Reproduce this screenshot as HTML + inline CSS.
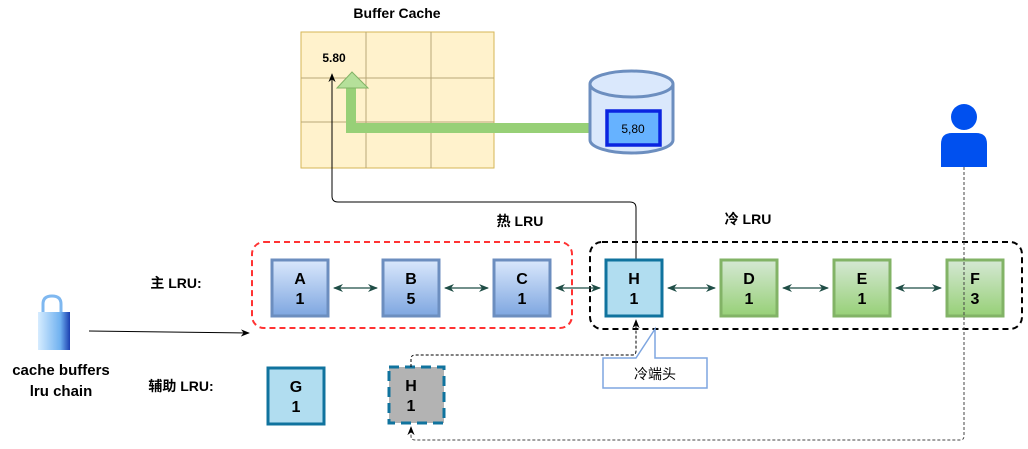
<!DOCTYPE html>
<html><head><meta charset="utf-8"><style>
html,body{margin:0;padding:0;background:#fff}
svg{display:block;font-family:"Liberation Sans","Noto Sans CJK SC",sans-serif}
.b{font-weight:bold}
</style></head><body>
<svg width="1028" height="449" viewBox="0 0 1028 449" xmlns="http://www.w3.org/2000/svg">
<defs>
<linearGradient id="gb" x1="0" y1="0" x2="0" y2="1"><stop offset="0" stop-color="#dae8fc"/><stop offset="1" stop-color="#7ea6e0"/></linearGradient>
<linearGradient id="gg" x1="0" y1="0" x2="0" y2="1"><stop offset="0" stop-color="#d5e8d4"/><stop offset="1" stop-color="#97d077"/></linearGradient>
<linearGradient id="lk" x1="0" y1="0" x2="1" y2="0"><stop offset="0" stop-color="#d6ecff"/><stop offset="0.7" stop-color="#6fb1f0"/><stop offset="1" stop-color="#1b3fb0"/></linearGradient>
<marker id="a" viewBox="0 0 10 10" refX="9" refY="5" markerWidth="9" markerHeight="9" markerUnits="userSpaceOnUse" orient="auto-start-reverse"><path d="M0,1 L10,5 L0,9 L3,5z" fill="#000"/></marker>
<marker id="ag" viewBox="0 0 10 10" refX="9" refY="5" markerWidth="10" markerHeight="10" markerUnits="userSpaceOnUse" orient="auto-start-reverse"><path d="M0,1 L10,5 L0,9 L3,5z" fill="#1f4d46"/></marker>
</defs>

<text x="397" y="18" font-size="14" class="b" text-anchor="middle">Buffer Cache</text>
<rect x="301" y="32" width="193" height="136" fill="#fff2cc" stroke="#d6b656"/>
<path d="M366,32V168M431,32V168M301,78H494M301,122H494" stroke="#b8a878" stroke-width="1"/>
<text x="334" y="62" font-size="12" class="b" text-anchor="middle">5.80</text>

<path d="M607,128 H351 V86" fill="none" stroke="#97d077" stroke-width="10"/>
<path d="M337,88 L352,72 L368,88z" fill="#b5e09a" stroke="#82b366" stroke-width="1"/>

<path d="M590,84 V140 A41.5,13 0 0 0 673,140 V84" fill="#dae8fc" stroke="#6c8ebf" stroke-width="3"/>
<ellipse cx="631.5" cy="84" rx="41.5" ry="13" fill="#dae8fc" stroke="#6c8ebf" stroke-width="3"/>
<rect x="607" y="111" width="53" height="34" fill="#66b2ff" stroke="#0a24e0" stroke-width="3.5"/>
<text x="633" y="133" font-size="12" text-anchor="middle">5,80</text>

<path d="M636,260 V208 Q636,202 630,202 H338 Q332,202 332,196 V74" fill="none" stroke="#000" stroke-width="1" marker-end="url(#a)"/>

<rect x="252" y="242" width="320" height="86" rx="12" fill="none" stroke="#ff3333" stroke-width="2" stroke-dasharray="6,4"/>
<rect x="590" y="242" width="432" height="87" rx="12" fill="none" stroke="#000" stroke-width="2" stroke-dasharray="6,4"/>
<text x="520" y="226" font-size="14" class="b" text-anchor="middle">热 LRU</text>
<text x="748" y="224" font-size="14" class="b" text-anchor="middle">冷 LRU</text>
<text x="176" y="288" font-size="14" class="b" text-anchor="middle">主 LRU:</text>
<text x="181" y="391" font-size="14" class="b" text-anchor="middle">辅助 LRU:</text>

<g stroke="#1f4d46" stroke-width="1.3" fill="none">
<path d="M334,288 H377" marker-start="url(#ag)" marker-end="url(#ag)"/>
<path d="M445,288 H488" marker-start="url(#ag)" marker-end="url(#ag)"/>
<path d="M556,288 H600" marker-start="url(#ag)" marker-end="url(#ag)"/>
<path d="M668,288 H715" marker-start="url(#ag)" marker-end="url(#ag)"/>
<path d="M783,288 H828" marker-start="url(#ag)" marker-end="url(#ag)"/>
<path d="M896,288 H941" marker-start="url(#ag)" marker-end="url(#ag)"/>
</g>

<g font-size="16" class="b" text-anchor="middle">
<rect x="272" y="260" width="56" height="56" fill="url(#gb)" stroke="#6c8ebf" stroke-width="3"/><text x="300" y="284">A</text><text x="300" y="304">1</text>
<rect x="383" y="260" width="56" height="56" fill="url(#gb)" stroke="#6c8ebf" stroke-width="3"/><text x="411" y="284">B</text><text x="411" y="304">5</text>
<rect x="494" y="260" width="56" height="56" fill="url(#gb)" stroke="#6c8ebf" stroke-width="3"/><text x="522" y="284">C</text><text x="522" y="304">1</text>
<rect x="606" y="260" width="56" height="56" fill="#b1ddf0" stroke="#10739e" stroke-width="3"/><text x="634" y="284">H</text><text x="634" y="304">1</text>
<rect x="721" y="260" width="56" height="56" fill="url(#gg)" stroke="#82b366" stroke-width="3"/><text x="749" y="284">D</text><text x="749" y="304">1</text>
<rect x="834" y="260" width="56" height="56" fill="url(#gg)" stroke="#82b366" stroke-width="3"/><text x="862" y="284">E</text><text x="862" y="304">1</text>
<rect x="947" y="260" width="56" height="56" fill="url(#gg)" stroke="#82b366" stroke-width="3"/><text x="975" y="284">F</text><text x="975" y="304">3</text>
<rect x="268" y="368" width="56" height="56" fill="#b1ddf0" stroke="#10739e" stroke-width="3"/><text x="296" y="392">G</text><text x="296" y="412">1</text>
<rect x="389" y="367" width="55" height="56" fill="#b3b3b3" stroke="#10739e" stroke-width="3" stroke-dasharray="10,6"/><text x="411" y="391">H</text><text x="411" y="411">1</text>
</g>

<path d="M411,367 V359 Q411,355 415,355 H632 Q636,355 636,351 V320" fill="none" stroke="#000" stroke-width="1" stroke-dasharray="3,2" marker-end="url(#a)"/>
<path d="M964,167 V436 Q964,440 960,440 H415 Q411,440 411,436 V427" fill="none" stroke="#444" stroke-width="1" stroke-dasharray="3,2" marker-end="url(#a)"/>

<path d="M603,358 H636 L655,329 V358 H707 V388 H603z" fill="#fff" stroke="#7ea6e0" stroke-width="1.5"/>
<text x="655" y="379" font-size="14" text-anchor="middle">冷端头</text>

<circle cx="964" cy="117" r="13" fill="#0050ef"/>
<path d="M941,167 V144 Q941,133 952,133 H976 Q987,133 987,144 V167z" fill="#0050ef"/>

<path d="M43,314 V304 Q43,296 52,296 Q61,296 61,304 V314" fill="none" stroke="#7fb8f0" stroke-width="3"/>
<rect x="38" y="312" width="32" height="38" fill="url(#lk)"/>
<text x="61" y="375" font-size="15" class="b" text-anchor="middle">cache buffers</text>
<text x="61" y="396" font-size="15" class="b" text-anchor="middle">lru chain</text>
<path d="M89,331 L249,333" stroke="#000" stroke-width="1" marker-end="url(#a)"/>
</svg>
</body></html>
